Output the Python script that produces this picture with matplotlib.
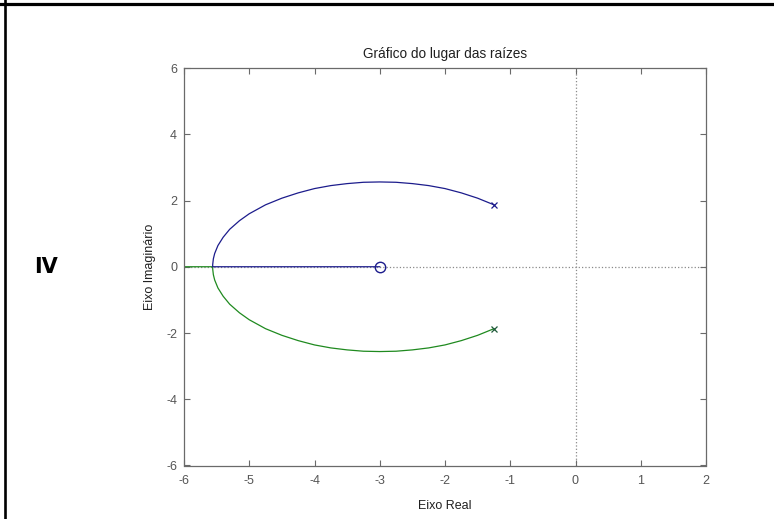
import numpy as np
import matplotlib
matplotlib.use('Agg')
import matplotlib.pyplot as plt
from matplotlib.lines import Line2D

plt.rcParams['font.family'] = ['Liberation Sans', 'DejaVu Sans']
plt.rcParams['axes.unicode_minus'] = False

# poles and zero
pole_re = [-1.25, -1.25]
pole_im = [1.87, -1.87]
zero_re = [-3.0]
zero_im = [0.0]

# upper branch (blue): pole -> breakaway -> zero
upper_re = [-1.25, -1.5, -1.75, -2.0, -2.25, -2.5, -2.75, -3.0, -3.25, -3.5, -3.75, -4.0,
            -4.25, -4.5, -4.75, -5.0, -5.15, -5.3, -5.4, -5.48, -5.53, -5.55, -5.56, -5.561,
            -5.0, -4.5, -4.0, -3.5, -3.0]
upper_im = [1.87, 2.07, 2.23, 2.36, 2.45, 2.51, 2.55, 2.56, 2.55, 2.51, 2.45, 2.36,
            2.23, 2.07, 1.87, 1.60, 1.39, 1.13, 0.89, 0.64, 0.40, 0.24, 0.07, 0.0,
            0.0, 0.0, 0.0, 0.0, 0.0]

# lower branch (green): pole -> breakaway -> off to the left
lower_re = [-1.25, -1.5, -1.75, -2.0, -2.25, -2.5, -2.75, -3.0, -3.25, -3.5, -3.75, -4.0,
            -4.25, -4.5, -4.75, -5.0, -5.15, -5.3, -5.4, -5.48, -5.53, -5.55, -5.56, -5.561,
            -6.0, -6.5]
lower_im = [-1.87, -2.07, -2.23, -2.36, -2.45, -2.51, -2.55, -2.56, -2.55, -2.51, -2.45, -2.36,
            -2.23, -2.07, -1.87, -1.60, -1.39, -1.13, -0.89, -0.64, -0.40, -0.24, -0.07, 0.0,
            0.0, 0.0]

xticks = [-6, -5, -4, -3, -2, -1, 0, 1, 2]
yticks = [-6, -4, -2, 0, 2, 4, 6]

blue = '#1c1c8c'
green = '#1f8a1f'
grey = '#6a6a6a'
txt = '#555555'

fig = plt.figure(figsize=(7.74, 5.19), dpi=100)
ax = fig.add_axes([184/774, (519-465.5)/519, 522/774, 397.5/519])

# dotted axis lines
ax.axhline(0, color='#8a8a8a', linestyle=':', linewidth=0.9, zorder=1)
ax.axvline(0, color='#8a8a8a', linestyle=':', linewidth=0.9, zorder=1)

ax.plot(upper_re, upper_im, color=blue, linewidth=0.9, zorder=3)
ax.plot(lower_re, lower_im, color=green, linewidth=0.9, zorder=2)

ax.plot(pole_re[0], pole_im[0], 'x', color=blue, markersize=5, markeredgewidth=0.9, zorder=4)
ax.plot(pole_re[1], pole_im[1], 'x', color='#1f5a3a', markersize=5, markeredgewidth=0.9, zorder=4)
ax.plot(zero_re, zero_im, 'o', markerfacecolor='none', markeredgecolor=blue,
        markersize=7.5, markeredgewidth=1.0, zorder=4)

ax.set_xlim(-6, 2)
ax.set_ylim(-6, 6)
ax.set_xticks(xticks)
ax.set_yticks(yticks)
ax.tick_params(direction='in', length=4, width=0.8, color=grey, labelcolor=txt,
               labelsize=9, top=True, right=True, pad=5)
ax.tick_params(axis='x', pad=7)
for sp in ax.spines.values():
    sp.set_color(grey)
    sp.set_linewidth(0.9)

ax.set_title('Gráfico do lugar das raízes', fontsize=9.8, color='#202020', pad=7)
ax.set_xlabel('Eixo Real', fontsize=9, color='#202020', labelpad=9)
ax.set_ylabel('Eixo Imaginário', fontsize=9, color='#202020', labelpad=7)

# table-cell frame and row label
fig.add_artist(Line2D([0, 1], [1 - 3.5/519, 1 - 3.5/519], color='black', linewidth=2.3))
fig.add_artist(Line2D([4.5/774, 4.5/774], [0, 1], color='black', linewidth=1.9))
fig.text(46/774, 1 - 267/519, 'IV', fontsize=15, fontweight='bold', family='DejaVu Sans',
         ha='center', va='center', color='black')

fig.savefig('out.png', dpi=100)
